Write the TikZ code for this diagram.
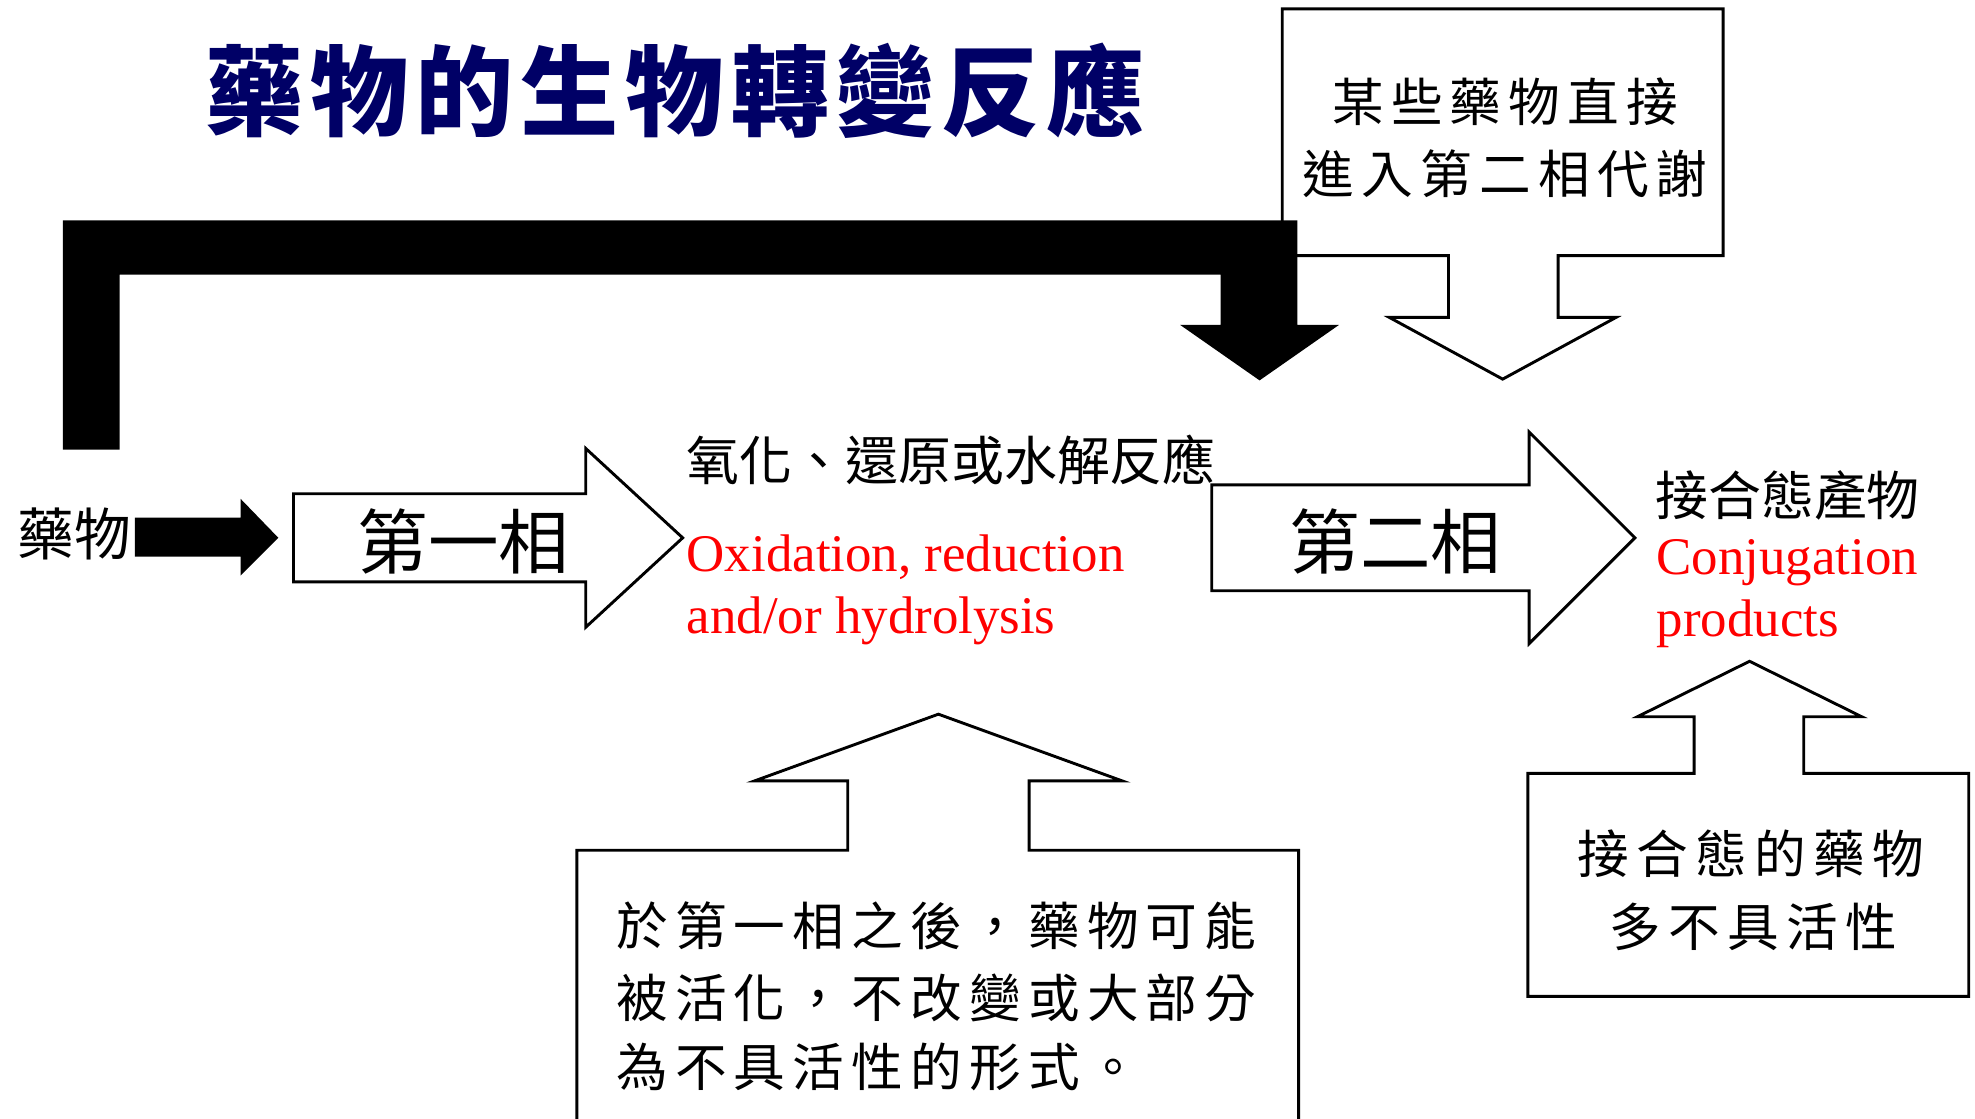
\documentclass[tikz,border=0pt]{standalone}
\usepackage{fontspec}
\setmainfont{Liberation Serif}
\newfontfamily\cjk{Noto Sans CJK TC}
\newfontfamily\cjkls{Noto Sans CJK TC}[LetterSpace=14]
\newfontfamily\cjktitle{Noto Sans CJK TC}[LetterSpace=7]
\definecolor{titleblue}{RGB}{0,0,102}
\definecolor{redtxt}{RGB}{255,0,0}
\tikzset{
  outlinearrow/.style={draw=black, fill=white, line width=2.3pt, line join=miter},
  solidarrow/.style={fill=black, draw=none},
  cjktext/.style={inner sep=0pt, font=\cjk\fontsize{42}{50}\selectfont},
  kaitext/.style={inner sep=0pt, font=\cjkls\fontsize{41}{57}\selectfont},
  phasetext/.style={inner sep=0pt, font=\cjk\fontsize{56}{60}\selectfont},
  engtext/.style={inner sep=0pt, text=redtxt, font=\fontsize{42}{50}\selectfont}
}
\begin{document}
\begin{tikzpicture}[x=1pt, y=-1pt]
\path[use as bounding box] (0,0) rectangle (1568,888);
\clip (0,0) rectangle (1568,888);

% top-right callout (under the black arrow)
\draw[outlinearrow] (1018,7) -- (1368,7) -- (1368,203) -- (1237,203) -- (1237,252)
  -- (1283,252) -- (1193,301) -- (1103,252) -- (1150,252) -- (1150,203) -- (1018,203) -- cycle;
\node[kaitext] (topA) at (1195,81) {某些藥物直接};
\node[kaitext] (topB) at (1195,138) {進入第二相代謝};

% big black bent arrow
\fill[solidarrow] (50,175) -- (1030,175) -- (1030,258) -- (1063,258) -- (1000,302)
  -- (937,258) -- (969,258) -- (969,218) -- (95,218) -- (95,357) -- (50,357) -- cycle;

% title
\node[inner sep=0pt, text=titleblue, font=\cjktitle\bfseries\fontsize{78}{80}\selectfont] (title) at (536,72) {藥物的生物轉變反應};

% drug label and small black arrow
\node[inner sep=0pt, font=\cjk\fontsize{45}{50}\selectfont] (drug) at (59,424) {藥物};
\fill[solidarrow] (107,411) -- (191,411) -- (191,396) -- (221,427) -- (191,457)
  -- (191,442) -- (107,442) -- cycle;

% phase I arrow
\draw[outlinearrow] (233,392) -- (465,392) -- (465,356) -- (542,427) -- (465,498)
  -- (465,462) -- (233,462) -- cycle;
\node[phasetext] (p1) at (368,430) {第一相};

% phase I products
\node[cjktext, anchor=west] (ox) at (545,365) {氧化、還原或水解反應};
\node[engtext, anchor=base west] (oxA) at (545,454) {Oxidation, reduction};
\node[engtext, anchor=base west] (oxB) at (545,503) {and/or hydrolysis};

% phase II arrow
\draw[outlinearrow] (962,385) -- (1214,385) -- (1214,343) -- (1298,427) -- (1214,511)
  -- (1214,469) -- (962,469) -- cycle;
\node[phasetext] (p2) at (1108,430) {第二相};

% phase II products
\node[cjktext, anchor=west] (conj) at (1314,393) {接合態產物};
\node[engtext, anchor=base west] (conjA) at (1315,456) {Conjugation};
\node[engtext, anchor=base west] (conjB) at (1315,505) {products};

% bottom-middle callout
\draw[outlinearrow] (458,675) -- (673,675) -- (673,620) -- (599,620) -- (745,567)
  -- (891,620) -- (817,620) -- (817,675) -- (1031,675) -- (1031,905) -- (458,905) -- cycle;
\node[kaitext, anchor=west] (midA) at (489,735) {於第一相之後，藥物可能};
\node[kaitext, anchor=west] (midB) at (489,792) {被活化，不改變或大部分};
\node[kaitext, anchor=west] (midC) at (489,847) {為不具活性的形式。};

% bottom-right callout
\draw[outlinearrow] (1213,614) -- (1345,614) -- (1345,569) -- (1300,569) -- (1389,525)
  -- (1478,569) -- (1432,569) -- (1432,614) -- (1563,614) -- (1563,791) -- (1213,791) -- cycle;
\node[kaitext] (rA) at (1390,678) {接合態的藥物};
\node[kaitext] (rB) at (1392,736) {多不具活性};
\end{tikzpicture}
\end{document}
